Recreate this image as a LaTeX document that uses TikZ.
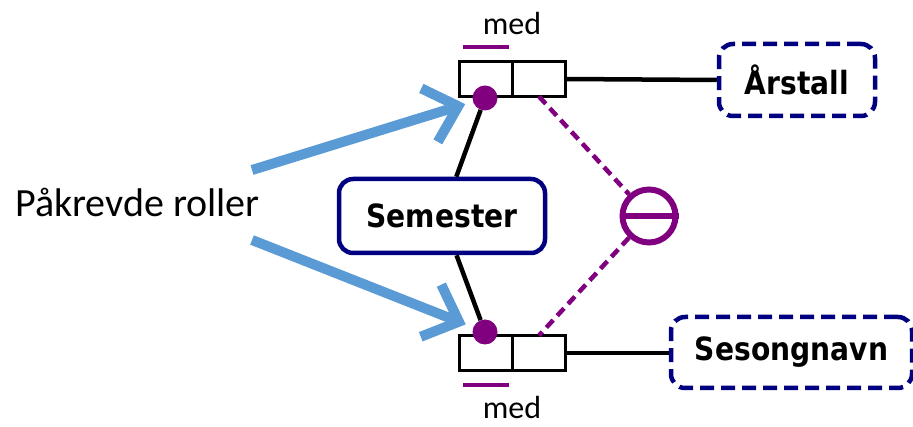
\documentclass[tikz,border=0pt]{standalone}
\usepackage{fontspec}
\setmainfont{Carlito}
\newfontfamily\lblfont[FakeStretch=0.88]{DejaVu Sans}
\usetikzlibrary{positioning}
\usetikzlibrary{arrows.meta}
\definecolor{navy}{RGB}{0,0,128}
\definecolor{ormpurple}{RGB}{128,0,128}
\definecolor{skyblue}{RGB}{91,155,213}
\tikzset{
    entity/.style = {rectangle, rounded corners=14pt, line width=4.5pt, draw=navy, minimum width=206pt, minimum height=74pt, font=\lblfont\bfseries\fontsize{32}{36}\selectfont},
    valtype/.style = {entity, dash pattern=on 14pt off 7pt, minimum width=156pt, minimum height=72pt},
    cell/.style = {rectangle, line width=3.5pt, draw=black, minimum width=53pt, minimum height=35pt, inner sep=0pt, outer sep=0pt},
    dot/.style = {circle, fill=ormpurple, minimum size=25pt, inner sep=0pt},
    excl/.style = {circle, line width=6pt, draw=ormpurple, minimum size=53pt, inner sep=0pt},
    medlbl/.style = {anchor=base, inner sep=0pt, font=\fontsize{32}{36}\selectfont},
    bar/.style = {line width=4pt, ormpurple},
    edgen/.style = {line width=4.5pt, black},
    edgep/.style = {line width=4.5pt, ormpurple, dash pattern=on 10pt off 6pt},
    edgeb/.style = {-{Straight Barb[length=30pt,width=56pt]}, line width=10pt, skyblue, shorten >=8pt},
}

\begin{document}
\begin{tikzpicture}[x=1pt,y=-1pt]
\useasboundingbox (0,0) rectangle (913,427);
\node[entity] at (442, 216) (sem) {Semester};
\node[valtype] at (797, 80) (yr) {Årstall};
\node[valtype, minimum width=241pt, minimum height=71pt] at (791.5, 352.5) (sn) {Sesongnavn};
%
\node[cell] at (486, 79) (r1a) {};
\node[cell, right=0pt of r1a] (r1b) {};
\node[cell] at (486, 353) (r2a) {};
\node[cell, right=0pt of r2a] (r2b) {};
\node[dot] at (485, 98) (d1) {};
\node[dot] at (485, 332) (d2) {};
\node[excl] at (649, 216) (ex) {};
%
\node[medlbl] at (512, 35) (m1) {med};
\node[medlbl] at (512, 419) (m2) {med};
\draw[bar] (463, 47) -- (509, 47);
\draw[bar] (463, 385) -- (509, 385);
\node[anchor=base west, inner sep=0pt, font=\fontsize{40}{44}\selectfont] at (15, 217) (roles) {Påkrevde roller};
\coordinate (a1) at (252, 170);
\coordinate (a2) at (252, 240);
%
\draw[edgen] (d1) -- (sem);
\draw[edgen] (d2) -- (sem);
\draw[edgen] (r1b.east) -- (yr.west);
\draw[edgen] (r2b.east) -- (r2b.east -| sn.west);
\draw[edgep] (r1b.south) -- (ex);
\draw[edgep] (ex) -- (r2b.north);
\draw[line width=6pt, ormpurple] (ex.west) -- (ex.east);
\draw[edgeb] (a1) -- (d1);
\draw[edgeb] (a2) -- (d2);
\end{tikzpicture}
\end{document}
